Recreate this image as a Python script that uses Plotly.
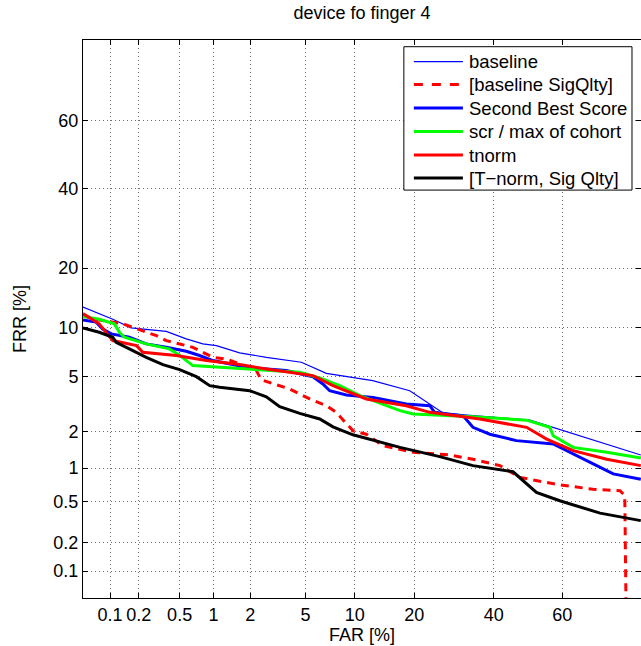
from statistics import NormalDist
import plotly.graph_objects as go

# ---- data (percent) ----
baseline_far = [0.05, 0.107, 0.167, 0.374, 0.575, 0.81, 1.06, 1.65, 2.65, 4.69, 6.8, 12.55, 19.1, 26.5, 50.6, 79.8]
baseline_frr = [12.9, 11.1, 9.93, 9.49, 8.58, 8.01, 7.82, 7.06, 6.63, 6.17, 5.23, 4.68, 3.99, 2.76, 2.44, 1.29]

sigq_far = [0.05, 0.076, 0.137, 0.203, 0.30, 0.374, 0.50, 0.66, 0.99, 1.28, 1.65, 2.23, 2.43, 2.97, 3.9, 5.33,
            6.8, 7.8, 9.0, 9.8, 11.6, 14.2, 19.8, 28.2, 34.2, 41.8, 47.6, 58.4, 68.5, 75.2, 76.3, 76.9]
sigq_frr = [11.6, 11.0, 10.46, 9.68, 8.96, 8.38, 8.01, 7.64, 6.63, 6.47, 6.02, 5.45, 4.73, 4.44, 4.10, 3.49,
            3.12, 2.79, 2.28, 2.02, 1.90, 1.54, 1.36, 1.29, 1.19, 1.05, 0.83, 0.72, 0.65, 0.63, 0.57, 0.001]

second_far = [0.05, 0.070, 0.083, 0.103, 0.160, 0.238, 0.374, 0.575, 0.757, 0.99, 1.86, 3.7, 5.59, 6.47, 7.13,
              8.97, 12.6, 18.4, 23.4, 24.5, 31.6, 34.2, 38.9, 46.6, 57.4, 63.1, 66.8, 72.0, 73.6, 79.8]
second_frr = [11.0, 10.7, 9.78, 9.17, 8.77, 8.01, 7.64, 7.22, 6.80, 6.32, 5.73, 5.45, 4.97, 4.44, 3.99,
              3.72, 3.58, 3.21, 3.12, 2.79, 2.63, 2.15, 1.90, 1.69, 1.59, 1.31, 1.15, 0.95, 0.89, 0.80]

cohort_far = [0.05, 0.076, 0.111, 0.126, 0.142, 0.238, 0.40, 0.48, 0.66, 1.13, 2.10, 4.57, 6.18, 8.19, 10.7,
              17.2, 19.8, 34.2, 49.6, 56.4, 57.4, 63.1, 72.0, 79.8]
cohort_frr = [11.5, 11.1, 10.46, 9.37, 8.77, 8.01, 7.47, 6.96, 5.87, 5.73, 5.50, 5.31, 4.87, 4.32, 3.68,
              2.87, 2.71, 2.59, 2.44, 2.15, 1.85, 1.49, 1.36, 1.22]

tnorm_far = [0.05, 0.076, 0.107, 0.19, 0.22, 0.465, 0.87, 1.65, 2.65, 5.59, 7.47, 11.6, 18.4, 23.4, 36.1,
             49.6, 55.5, 63.1, 72.0, 79.8]
tnorm_frr = [11.9, 10.46, 8.38, 7.82, 7.12, 6.80, 6.32, 5.96, 5.59, 5.05, 4.32, 3.49, 3.12, 2.79, 2.49,
             2.15, 1.74, 1.40, 1.19, 1.05]

tn_sq_far = [0.05, 0.076, 0.107, 0.116, 0.160, 0.238, 0.347, 0.50, 0.71, 0.93, 1.13, 1.98, 2.65, 3.32, 4.57,
             6.18, 7.47, 9.78, 17.2, 25.7, 34.2, 45.6, 52.5, 59.3, 70.3, 79.8]
tn_sq_frr = [9.93, 9.37, 8.77, 8.18, 7.47, 6.63, 5.96, 5.53, 4.97, 4.32, 4.21, 3.99, 3.62, 3.07, 2.74,
             2.49, 2.17, 1.88, 1.49, 1.25, 1.05, 0.93, 0.61, 0.51, 0.39, 0.33]

tick_vals = [0.1, 0.2, 0.5, 1, 2, 5, 10, 20, 40, 60]
tick_text = ["0.1", "0.2", "0.5", "1", "2", "5", "10", "20", "40", "60"]

series = [
    ("baseline", baseline_far, baseline_frr, "#0000ff", 1.2, "solid"),
    ("[baseline SigQlty]", sigq_far, sigq_frr, "#ff0000", 3, "8px,6px"),
    ("Second Best Score", second_far, second_frr, "#0000ff", 3, "solid"),
    ("scr / max of cohort", cohort_far, cohort_frr, "#00ff00", 3, "solid"),
    ("tnorm", tnorm_far, tnorm_frr, "#ff0000", 3, "solid"),
    ("[T\u2212norm, Sig Qlty]", tn_sq_far, tn_sq_frr, "#000000", 3, "solid"),
]

nd = NormalDist()


def dev(vals):
    return [nd.inv_cdf(v / 100.0) for v in vals]


FONT = "Liberation Sans, Arial, Helvetica, sans-serif"
W, H = 641, 646
L, R, T, B = 83.3, 0, 40, 48.3
PW, PH = W - L - R, H - T - B


def px(xp):
    return (xp - L) / PW


def py(yp):
    return (H - B - yp) / PH


fig = go.Figure()
for name, far, frr, color, width, dash in series:
    fig.add_trace(go.Scatter(x=dev(far), y=dev(frr), mode="lines", name=name,
                             line=dict(color=color, width=width, dash=dash),
                             showlegend=False))

# ---- legend box drawn as shapes + text ----
shapes = [dict(type="rect", xref="paper", yref="paper",
               x0=px(404), x1=px(632), y0=py(190), y1=py(46.7),
               line=dict(color="black", width=1), fillcolor="white", layer="above")]
annotations = []
row_y = [61.7, 84.5, 108.0, 131.5, 155.0, 178.0]
for (name, far, frr, color, width, dash), ry in zip(series, row_y):
    sdash = "dash" if dash != "solid" else "solid"
    shapes.append(dict(type="line", xref="paper", yref="paper",
                       x0=px(414), x1=px(463), y0=py(ry), y1=py(ry),
                       line=dict(color=color, width=width, dash=sdash), layer="above"))
    annotations.append(dict(text=name, xref="paper", yref="paper", x=px(467), y=py(ry),
                            xanchor="left", yanchor="middle", showarrow=False,
                            font=dict(size=18.5, color="black", family=FONT)))

axis_common = dict(
    tickmode="array", tickvals=dev(tick_vals), ticktext=tick_text,
    showline=True, linecolor="black", linewidth=1, mirror="ticks",
    ticks="inside", ticklen=5, tickcolor="black",
    showgrid=True, gridcolor="#6e6e6e", griddash="1px,3px", gridwidth=1,
    zeroline=False, tickfont=dict(size=18, color="black", family=FONT),
)

fig.update_xaxes(range=[nd.inv_cdf(0.0005), 0.836],
                 title=dict(text="FAR [%]", font=dict(size=18, color="black", family=FONT), standoff=0),
                 **axis_common)
fig.update_yaxes(range=[nd.inv_cdf(0.0005), 0.851],
                 title=dict(text="FRR [%]", font=dict(size=18, color="black", family=FONT), standoff=22),
                 **axis_common)

fig.update_layout(
    width=W, height=H,
    margin=dict(l=L, r=R, t=T, b=B, pad=0),
    paper_bgcolor="white", plot_bgcolor="white",
    font=dict(family=FONT, size=18, color="black"),
    title=dict(text="device fo finger 4", x=0.5, xref="paper", xanchor="center",
               y=1 - 13 / H, yref="container", yanchor="middle",
               font=dict(size=18, color="black", family=FONT)),
    shapes=shapes,
    annotations=annotations,
    showlegend=False,
)

fig.write_html("out.html", config={"displayModeBar": False},
               post_script="document.body.style.margin='0px';")
